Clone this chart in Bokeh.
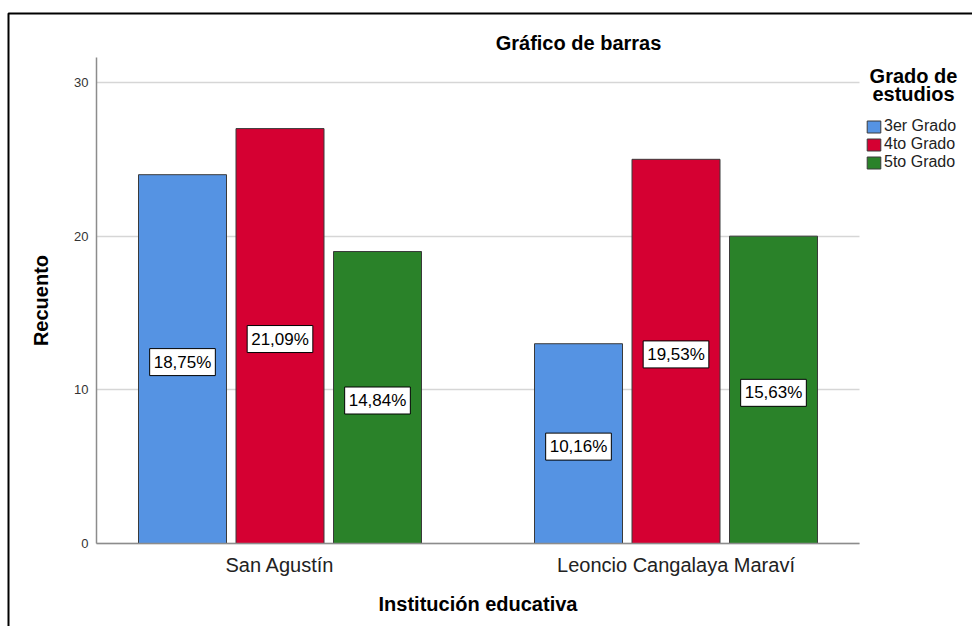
from bokeh.plotting import figure
from bokeh.models import (ColumnDataSource, Range1d, FixedTicker,
                          Legend, LegendItem, Label, BoxAnnotation)
from bokeh.core.properties import value
from bokeh.transform import dodge
from bokeh.embed import file_html
from bokeh.resources import INLINE

# ---- data ----
institutions = ["San Agustín", "Leoncio Cangalaya Maraví"]
grades = ["3er Grado", "4to Grado", "5to Grado"]
counts_3er = [24, 13]
counts_4to = [27, 25]
counts_5to = [19, 20]
pct_3er = ["18,75%", "10,16%"]
pct_4to = ["21,09%", "19,53%"]
pct_5to = ["14,84%", "15,63%"]
y_ticks = [0, 10, 20, 30]

colors = ["#5593E3", "#D50032", "#2A8229"]
FONT = "Liberation Sans"

# ---- layout constants (pixels -> data scale) ----
W, H = 972, 626
PX_X = 396.0           # pixels per category step
PX_Y = 15.367          # pixels per count unit
X0_PX, Y0_PX = 279.5, 543.0   # pixel of category 1 / count 0
AX_L, AX_R, AX_T = 96, 859, 57  # axis extents in pixels

def dx(px):
    return 1 + (px - X0_PX) / PX_X

def dy(py):
    return (Y0_PX - py) / PX_Y

xpos = list(range(1, len(institutions) + 1))

p = figure(width=W, height=H,
           x_range=Range1d(dx(0), dx(W)), y_range=Range1d(dy(H), dy(0)),
           output_backend="svg", toolbar_location=None, min_border=0)
p.outline_line_color = None
p.background_fill_color = "white"
p.border_fill_color = "white"

series = [(counts_3er, pct_3er), (counts_4to, pct_4to), (counts_5to, pct_5to)]
offsets = [-97.5 / PX_X, 0.0, 97.5 / PX_X]
bar_w = 88 / PX_X

renderers = []
for (cnts, pcts), off, col in zip(series, offsets, colors):
    src = ColumnDataSource(dict(x=xpos, count=cnts, pct=pcts,
                                mid=[c / 2 for c in cnts]))
    r = p.vbar(x=dodge("x", off), top="count", width=bar_w,
               source=src, fill_color=col, line_color="#3a3a3a", line_width=1)
    renderers.append(r)
    p.text(x=dodge("x", off), y="mid", text="pct", source=src,
           text_align="center", text_baseline="middle", y_offset=3,
           text_font=value(FONT), text_font_size="17px", text_color="black",
           background_fill_color="white", border_line_color="black",
           border_line_width=1, padding=4)

# axes
yax = p.yaxis[0]
yax.fixed_location = dx(AX_L)
yax.bounds = (0, dy(AX_T))
yax.ticker = FixedTicker(ticks=y_ticks)
yax.major_tick_out = 0
yax.major_tick_in = 0
yax.minor_tick_out = 0
yax.minor_tick_in = 0
yax.axis_line_color = "#8c8c8c"
yax.axis_line_width = 1.5
yax.major_label_text_font = FONT
yax.major_label_text_font_size = "13px"
yax.major_label_text_color = "#333333"
yax.major_label_standoff = 8
yax.axis_label = "Recuento"
yax.axis_label_text_font = FONT
yax.axis_label_text_font_style = "bold"
yax.axis_label_text_font_size = "20px"
yax.axis_label_text_color = "black"
yax.axis_label_standoff = 19

xax = p.xaxis[0]
xax.fixed_location = 0
xax.bounds = (dx(AX_L), dx(AX_R))
xax.ticker = FixedTicker(ticks=xpos)
xax.major_label_overrides = {x: name for x, name in zip(xpos, institutions)}
xax.major_tick_out = 0
xax.major_tick_in = 0
xax.minor_tick_out = 0
xax.minor_tick_in = 0
xax.axis_line_color = "#8c8c8c"
xax.axis_line_width = 1.5
xax.major_label_text_font = FONT
xax.major_label_text_font_size = "20px"
xax.major_label_text_color = "#222222"
xax.major_label_standoff = 10
xax.axis_label = "Institución educativa"
xax.axis_label_text_font = FONT
xax.axis_label_text_font_style = "bold"
xax.axis_label_text_font_size = "20px"
xax.axis_label_text_color = "black"
xax.axis_label_standoff = 14

p.xgrid.grid_line_color = None
p.ygrid.ticker = FixedTicker(ticks=y_ticks)
p.ygrid.cross_bounds = (dx(AX_L), dx(AX_R))
p.ygrid.grid_line_color = "#d6d6d6"
p.ygrid.grid_line_width = 1.5

# legend (location = bottom-left corner, frame pixels from bottom)
legend = Legend(items=[LegendItem(label=g, renderers=[r]) for g, r in zip(grades, renderers)],
                location=(865, H - 171), glyph_width=17, glyph_height=15,
                label_text_font=FONT, label_text_font_size="16px",
                label_text_color="#222222",
                label_height=15, spacing=-2, padding=0, margin=0,
                label_standoff=2, border_line_color=None, background_fill_alpha=0)
p.add_layout(legend)

for txt, yy in [("Grado de", 75), ("estudios", 93)]:
    p.add_layout(Label(x=913, y=H - yy, x_units="screen", y_units="screen", text=txt,
                       text_align="center", text_baseline="middle", text_color="black",
                       text_font=FONT, text_font_style="bold", text_font_size="20px"))

p.add_layout(Label(x=578, y=H - 42, x_units="screen", y_units="screen",
                   text="Gráfico de barras", text_align="center", text_baseline="middle",
                   text_color="black",
                   text_font=FONT, text_font_style="bold", text_font_size="20px"))

# outer frame border
p.add_layout(BoxAnnotation(left=8, right=3000, top=13, bottom=3000,
                           left_units="canvas", right_units="canvas",
                           top_units="canvas", bottom_units="canvas",
                           fill_alpha=0, line_color="black", line_alpha=1, line_width=2))

open("out.html", "w").write(file_html(p, INLINE))
